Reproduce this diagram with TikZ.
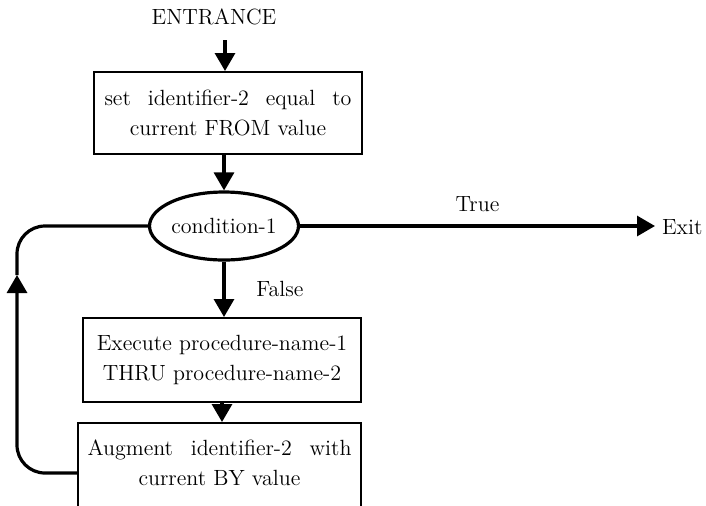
\documentclass[tikz,border=0pt]{standalone}
\usepackage{tikz}
\usetikzlibrary{arrows.meta,shapes.geometric}
\tikzset{
  txt/.style={font=\fontsize{11}{15}\selectfont},
  stepbox/.style={txt,draw,line width=1pt,align=center,inner sep=0pt},
  test/.style={txt,draw,ellipse,line width=1.6pt,minimum width=73pt,minimum height=34pt,inner sep=0pt},
  flow/.style={line width=1.6pt,-{Triangle[length=9pt,width=10pt]}},
  loopline/.style={line width=1.6pt,rounded corners=14pt},
}
\begin{document}
\begin{tikzpicture}[x=0.5pt,y=-0.5pt]
\clip (0,0) rectangle (706,505);

\node[txt] (entr) at (214,17) {ENTRANCE};
\coordinate (in) at (225,40);

\node[stepbox,minimum width=134pt,minimum height=41pt] (set) at (228,113)
  {\makebox[123.5pt][s]{set identifier-2 equal to}\\current FROM value};
\draw[flow] (in) -- (in |- set.north);

\node[test] (cond) at (224,226) {condition-1};
\draw[flow] (cond.north |- set.south) -- (cond.north);

% true branch
\node[txt,anchor=west] (exit) at (655,227) {Exit};
\draw[flow] (cond.east) -- (cond.east -| exit.west) node[midway,above=3pt,txt]{True};

% false branch
\node[stepbox,minimum width=139pt,minimum height=42pt] (exec) at (222,360)
  {Execute procedure-name-1\\THRU procedure-name-2};
\draw[flow] (cond.south) -- (cond.south |- exec.north) node[midway,right=12pt,txt]{False};

\node[stepbox,minimum width=141.5pt,minimum height=50pt,text depth=10pt] (aug) at (219.5,473)
  {\makebox[132pt][s]{Augment identifier-2 with}\\current BY value};
\draw[flow] (exec.south) -- (exec.south |- aug.north);

% back to the test
\coordinate (back) at (17,275);
\draw[flow,rounded corners=14pt] (aug.west) -| (back);
\draw[loopline] (back) |- (cond.west);
\end{tikzpicture}
\end{document}
